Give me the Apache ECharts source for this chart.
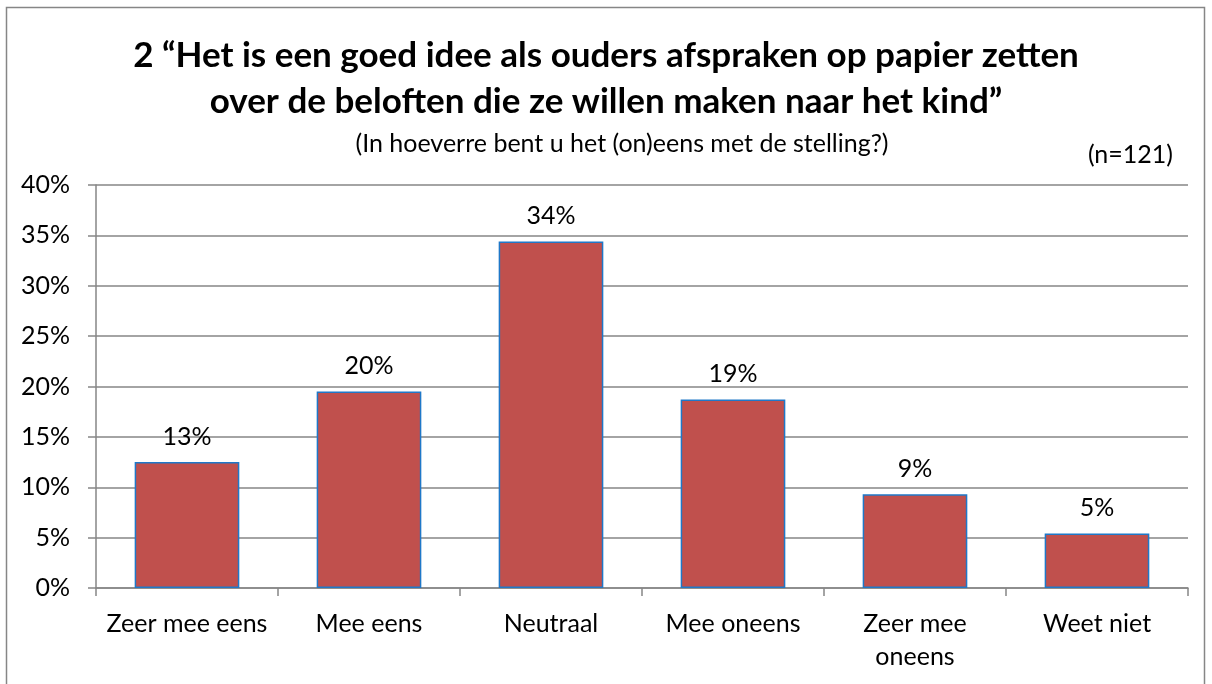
<!DOCTYPE html>
<html>
<head>
<meta charset="utf-8">
<script src="https://cdn.jsdelivr.net/npm/echarts@6/dist/echarts.min.js"></script>
<style>
    html,body{margin:0;padding:0;background:#fff;}
    #chart{width:1212px;height:684px;}
</style>
</head>
<body>
<div id="chart"></div>
<script>
// data
var categories = ['Zeer mee eens', 'Mee eens', 'Neutraal', 'Mee oneens', 'Zeer mee\noneens', 'Weet niet'];
var percentages = [12.5, 19.5, 34.4, 18.7, 9.3, 5.4];
var titleLines = ['2 \u201cHet is een goed idee als ouders afspraken op papier zetten', 'over de beloften die ze willen maken naar het kind\u201d'];
var subtitle = '(In hoeverre bent u het (on)eens met de stelling?)';
var sampleNote = '(n=121)';

var font = 'Lato, "Open Sans", sans-serif';
var gray = '#868686';

var chart = echarts.init(document.getElementById('chart'));
var option = {
    backgroundColor: '#fff',
    animation: false,
    textStyle: {fontFamily: font},
    title: [
        {
            text: titleLines.join('\n'),
            left: 'center',
            top: 28,
            textStyle: {fontSize: 35, fontWeight: 'bold', color: '#000', lineHeight: 46, fontFamily: font}
        },
        {
            text: subtitle,
            left: 617,
            textAlign: 'center',
            top: 125,
            textStyle: {fontSize: 25, fontWeight: 'normal', color: '#000', lineHeight: 28, fontFamily: font}
        },
        {
            text: sampleNote,
            right: 34,
            top: 136,
            textStyle: {fontSize: 25, fontWeight: 'normal', color: '#000', lineHeight: 28, fontFamily: font}
        }
    ],
    graphic: [{
        type: 'rect',
        shape: {x: 6.5, y: 7.5, width: 1198, height: 700},
        style: {fill: 'none', stroke: gray, lineWidth: 1.5},
        silent: true
    }],
    grid: {left: 96, right: 24, top: 185, bottom: 96},
    xAxis: {
        type: 'category',
        data: categories,
        axisLine: {lineStyle: {color: gray, width: 1.5}},
        axisTick: {show: true, length: 8, lineStyle: {color: gray, width: 1.5}},
        axisLabel: {color: '#000', fontSize: 25, margin: 19, lineHeight: 33, interval: 0}
    },
    yAxis: {
        type: 'value',
        min: 0,
        max: 40,
        interval: 5,
        axisLine: {show: true, lineStyle: {color: gray, width: 1.5}},
        axisTick: {show: true, length: 8, lineStyle: {color: gray, width: 1.5}},
        axisLabel: {color: '#000', fontSize: 25, margin: 26, formatter: '{value}%'},
        splitLine: {lineStyle: {color: gray, width: 1.5}}
    },
    series: [{
        type: 'bar',
        data: percentages,
        barWidth: '57.5%',
        itemStyle: {color: '#C0504D', borderColor: '#1F78C8', borderWidth: 1.5},
        label: {
            show: true,
            position: 'top',
            distance: 13,
            color: '#000',
            fontSize: 25,
            formatter: function (p) { return Math.round(p.value) + '%'; }
        }
    }]
};
chart.setOption(option);
</script>
</body>
</html>
